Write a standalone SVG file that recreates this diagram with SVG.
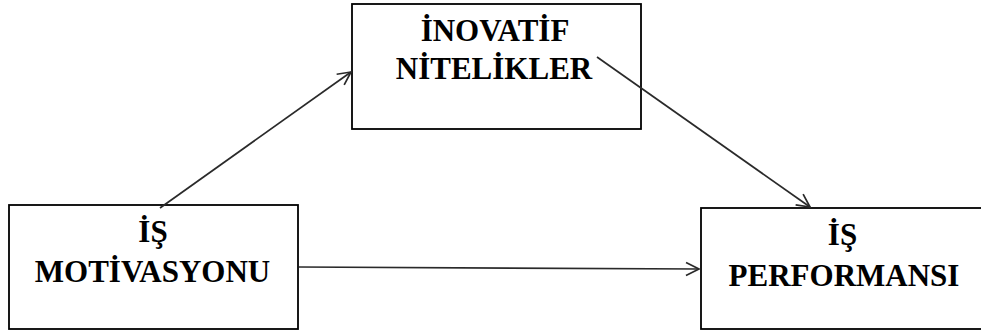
<svg xmlns="http://www.w3.org/2000/svg" width="981" height="333" viewBox="0 0 981 333">
  <style>
    .box { fill: #ffffff; stroke: #000000; stroke-width: 1.8; }
    .lbl { font-family: "Liberation Serif", "Times New Roman", serif; font-weight: bold; font-size: 31px; fill: #000000; text-anchor: middle; }
    .conn { fill: none; stroke: #2a2a2a; stroke-width: 1.7; marker-end: url(#open); }
  </style>
  <defs>
    <!-- open chevron arrowhead -->
    <marker id="open" markerUnits="userSpaceOnUse" markerWidth="18" markerHeight="18" viewBox="0 0 18 18" refX="16" refY="9" orient="auto">
      <path d="M3,2.5 L16,9 L3,15.5" fill="none" stroke="#2a2a2a" stroke-width="1.7"/>
    </marker>
  </defs>

  <rect width="981" height="333" fill="#ffffff"/>

  <g id="node-inovatif">
    <rect class="box" x="352" y="4" width="289" height="125"/>
    <text class="lbl" x="495" y="41">İNOVATİF</text>
    <text class="lbl" x="494" y="79">NİTELİKLER</text>
  </g>

  <g id="node-motivasyon">
    <rect class="box" x="9" y="205" width="289" height="124"/>
    <text class="lbl" x="153" y="242">İŞ</text>
    <text class="lbl" x="152.5" y="282">MOTİVASYONU</text>
  </g>

  <g id="node-performans">
    <rect class="box" x="701" y="208" width="284" height="121"/>
    <text class="lbl" x="842.5" y="245">İŞ</text>
    <text class="lbl" x="844" y="286">PERFORMANSI</text>
  </g>

  <g id="connectors">
    <line class="conn" x1="160" y1="208" x2="351" y2="72"/>
    <line class="conn" x1="597" y1="57" x2="810" y2="207"/>
    <line class="conn" x1="299" y1="267" x2="699" y2="269"/>
  </g>
</svg>
